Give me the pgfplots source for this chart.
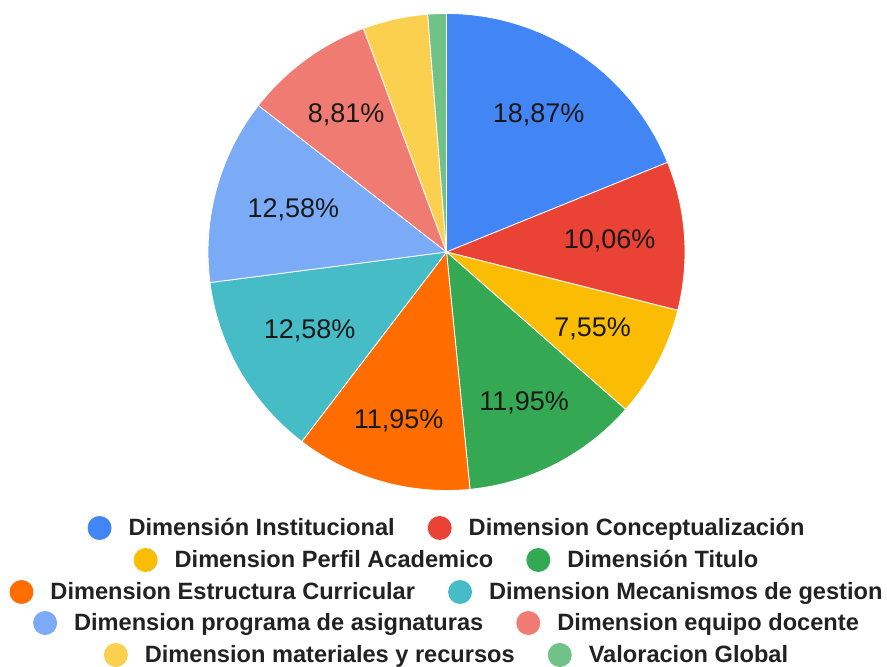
\documentclass[border=0pt]{standalone}
\usepackage{pgfplots}
\pgfplotsset{compat=1.18}
\usepackage{pgfplotstable}
\usepackage{fontspec}
\setmainfont{Liberation Sans}
\definecolor{c0}{HTML}{4285F4}
\definecolor{c1}{HTML}{EA4335}
\definecolor{c2}{HTML}{FBBC04}
\definecolor{c3}{HTML}{34A853}
\definecolor{c4}{HTML}{FF6D01}
\definecolor{c5}{HTML}{46BDC6}
\definecolor{c6}{HTML}{7BAAF7}
\definecolor{c7}{HTML}{F07B72}
\definecolor{c8}{HTML}{FCD04F}
\definecolor{c9}{HTML}{71C287}
\definecolor{legtext}{HTML}{222222}
\newcommand\lblfont{\fontsize{27}{30}\selectfont}
\newcommand\legfont{\fontsize{23.6}{26}\selectfont\bfseries}
\newcommand\lc[1]{\tikz[baseline=0pt]\fill[#1] (0pt,8pt) circle (12pt);}
% count = number of responses (total 159); pct = share in %; lr = label radius
\pgfplotstableread{
name count pct lr
Institucional 30 18.87 165
Conceptualizacion 16 10.06 163.6
Perfil 12 7.55 165
Titulo 19 11.95 170
Estructura 19 11.95 175.5
Mecanismos 20 12.58 158
Programa 20 12.58 158.8
Equipo 14 8.81 169.7
Materiales 7 4.40 0
Global 2 1.26 0
}\piedata
\begin{document}
\begin{tikzpicture}[x=1pt,y=1pt]
\path[use as bounding box] (0,0) rectangle (887,667);
\begin{axis}[at={(0,0)}, anchor=south west, scale only axis,
  width=887pt, height=667pt, xmin=0, xmax=887, ymin=0, ymax=667,
  hide axis, clip=false]
\def\cx{446.5}\def\cy{415}\def\R{238.5}
\def\cum{0}
\pgfplotsforeachungrouped \i in {0,...,9}{%
  \pgfplotstablegetelem{\i}{count}\of\piedata \let\val\pgfplotsretval
  \pgfplotstablegetelem{\i}{pct}\of\piedata \let\pct\pgfplotsretval
  \pgfplotstablegetelem{\i}{lr}\of\piedata \let\lr\pgfplotsretval
  \pgfmathsetmacro\angA{90-(360/159)*\cum}%
  \pgfmathsetmacro\newcum{\cum+\val}%
  \pgfmathsetmacro\angB{90-(360/159)*\newcum}%
  \pgfmathsetmacro\angM{(\angA+\angB)/2}%
  \pgfmathsetmacro\lx{\cx+\lr*cos(\angM)}%
  \pgfmathsetmacro\ly{\cy+\lr*sin(\angM)}%
  \let\cum\newcum
  \edef\cmd{\noexpand\fill[c\i, draw=white, line width=0.8pt] (axis cs:\cx,\cy) -- ++(\angA:\R pt) arc[start angle=\angA, end angle=\angB, radius=\R pt] -- cycle;}%
  \cmd
  \ifnum\i<8
    \edef\cmd{\noexpand\node[font=\noexpand\lblfont, text=black!90, inner sep=0pt] at (axis cs:\lx,\ly) {\noexpand\pgfmathprintnumber[fixed,fixed zerofill,precision=2,use comma,assume math mode=true]{\pct}\noexpand\%};}%
    \cmd
  \fi
}
\end{axis}
\begin{scope}[every node/.style={anchor=base, font=\legfont, text=legtext, inner sep=0pt}]
\node at (446,131) {\lc{c0}\hspace{17pt}Dimensión Institucional\hspace{33pt}\lc{c1}\hspace{17pt}Dimension Conceptualización};
\node at (446,99) {\lc{c2}\hspace{17pt}Dimension Perfil Academico\hspace{33pt}\lc{c3}\hspace{17pt}Dimensión Titulo};
\node at (446,67) {\lc{c4}\hspace{17pt}Dimension Estructura Curricular\hspace{33pt}\lc{c5}\hspace{17pt}Dimension Mecanismos de gestion};
\node at (446,36) {\lc{c6}\hspace{17pt}Dimension programa de asignaturas\hspace{33pt}\lc{c7}\hspace{17pt}Dimension equipo docente};
\node at (446,4) {\lc{c8}\hspace{17pt}Dimension materiales y recursos\hspace{33pt}\lc{c9}\hspace{17pt}Valoracion Global};
\end{scope}
\end{tikzpicture}
\end{document}
